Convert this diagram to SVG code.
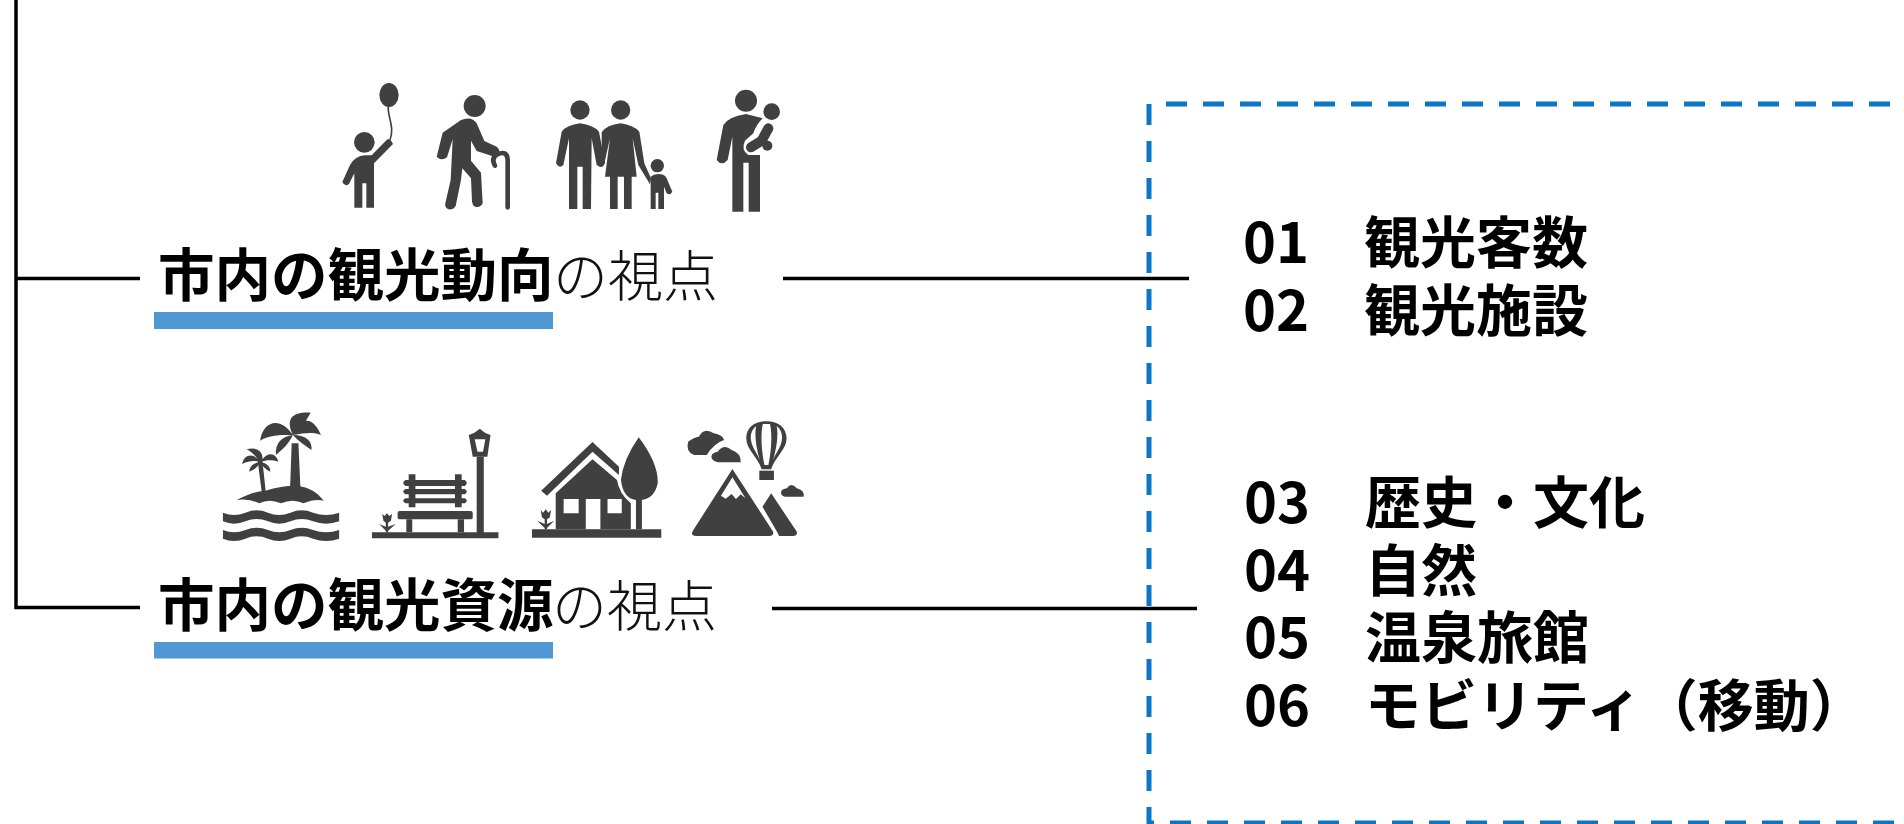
<svg xmlns="http://www.w3.org/2000/svg" width="1904" height="824" viewBox="0 0 1904 824">
<defs><filter id="soft" x="-5%" y="-5%" width="110%" height="110%"><feGaussianBlur stdDeviation="0.5"/></filter></defs>
<style>
.ic{fill:#404040;stroke:none}
.w{fill:#fff;stroke:none}
.ln{fill:none;stroke:#404040;stroke-linecap:round}
.c{fill:none;stroke:#000;stroke-width:3.500}
.bar{fill:#4f98d3}
.b{font-family:"Noto Sans CJK JP","Noto Sans",sans-serif;font-weight:700;fill:#000}
.l{font-family:"Noto Sans CJK JP","Noto Sans",sans-serif;font-weight:300;fill:#111}
</style>
<rect width="1904" height="824" fill="#fff"/>
<g id="connectors">
<path class="c" d="M16,0V607.500H140"/>
<path class="c" d="M16,278.500H140"/>
<path class="c" d="M783,278.500H1189"/>
<path class="c" d="M772,608.500H1197"/>
</g>
<g id="frame"><path d="M1149,104V823H1904M1166,104H1904" fill="none" stroke="#0b76c5" stroke-width="5" stroke-dasharray="21 16"/></g>
<g id="people-icons" transform="translate(300,70) scale(.33333)" filter="url(#soft)">
<g id="icon-child">
<circle class="ic" cx="193" cy="217" r="31"/>
<path class="ic" d="M150,285Q165,258 195,256L215,256L262,208Q272,205 279,222L222,280V413H199V340H187V413H163V310L147,342Q135,352 127,336Z"/>
<ellipse class="ic" cx="267" cy="75" rx="29" ry="36"/>
<path class="ln" stroke-width="5" d="M265,110C262,140 285,170 270,210"/>
</g>
<g id="icon-elder">
<circle class="ic" cx="524" cy="108" r="33"/>
<path class="ic" d="M428,188L483,150Q515,137 530,160L553,213L590,230Q600,238 598,250L588,262L530,243L513,212V272L543,308L548,400Q540,415 525,410Q517,405 516,395L513,325L487,295L483,330L467,408Q455,425 440,415Q433,408 437,395L452,330L458,208L441,262Q425,275 410,260Z"/>
<path class="ln" stroke-width="14" d="M585,287Q572,265 592,253Q622,240 623,270V412"/>
</g>
<g id="icon-family">
<circle class="ic" cx="840" cy="120" r="29"/><circle class="ic" cx="962" cy="120" r="29"/><circle class="ic" cx="1072" cy="287" r="20"/>
<path class="ic" d="M785,185Q800,165 840,160Q880,165 897,185L915,280Q905,297 890,285L875,205L873,417H848V290H832V417H807V205L790,285Q778,297 768,280Z"/>
<path class="ic" d="M905,187Q920,165 962,160Q1000,165 1018,185L1033,280L1053,325L1050,343L1015,285L998,205L1010,320H995V417H972V320H953V417H930V320H915L930,205L912,285Q905,295 897,288L905,230Z"/>
<path class="ic" d="M1052,320Q1060,313 1075,312Q1095,312 1100,325L1117,365Q1110,378 1100,370L1092,350V417H1075V368H1067V417H1052Z"/>
</g>
<g id="icon-parent">
<circle class="ic" cx="1338" cy="92" r="33"/><circle class="ic" cx="1415" cy="125" r="25"/>
<path class="ic" d="M1270,165Q1285,140 1338,132L1388,145Q1368,165 1360,190L1335,212Q1322,240 1345,255H1380V425H1346V278H1330V425H1297V200L1283,270Q1265,290 1250,270Z"/>
<path class="ln" stroke-width="30" d="M1405,175L1385,212L1353,232"/>
<circle class="ic" cx="1402" cy="227" r="15"/>
</g>
</g>
<g id="place-icons" transform="translate(200,400) scale(.39526,.33333)" filter="url(#soft)">
<g id="icon-island">
<path id="wave" class="ic" d="M58,338Q86,352 115,338Q143,324 172,338Q200,352 229,338Q257,324 286,338Q319,352 352,338V364Q319,378 286,364Q257,350 229,364Q200,378 172,364Q143,350 115,364Q86,378 58,364Z"/>
<path class="ic" transform="translate(0,52)" d="M58,338Q86,352 115,338Q143,324 172,338Q200,352 229,338Q257,324 286,338Q319,352 352,338V364Q319,378 286,364Q257,350 229,364Q200,378 172,364Q143,350 115,364Q86,378 58,364Z"/>
<path class="ic" d="M93,300Q130,275 165,272Q215,255 250,258Q290,265 313,302Q290,295 262,310Q235,295 205,310Q175,295 150,310Q125,295 93,300Z"/>
<path class="ic" d="M228,262L232,130H249L254,262Z"/>
<path class="ic" d="M235,105C205,50 160,60 152,122C175,105 200,105 235,105ZM235,105C215,55 235,35 280,38L268,62C285,60 300,85 306,105C285,95 265,100 235,105ZM235,105C270,105 285,125 282,150C265,135 250,125 235,105ZM235,105C205,110 190,130 192,165C212,145 225,130 235,105Z"/>
<path class="ic" d="M146,182L156,275L166,272L158,182Z"/>
<path class="ic" d="M152,185C135,155 110,165 107,192C125,180 140,182 152,185ZM152,185C138,165 130,155 118,148C145,140 160,155 158,178C175,150 195,165 198,185C180,178 170,180 152,185ZM152,185C170,190 178,200 178,215C165,208 158,198 152,185ZM152,185C135,190 125,200 125,215C140,208 148,198 152,185Z"/>
</g>
<g id="icon-bench">
<path class="ic" d="M435,397H755V415H435ZM700,170H718V400H700Z"/>
<path class="ic" fill-rule="evenodd" d="M680,105Q695,100 708,86Q720,100 735,105L727,170H690ZM695,118L702,155H716L722,118Z"/>
<path class="ic" d="M528,223H545V240H645V223H662V240H670Q680,249 670,258H662V267H670Q680,275 670,283H662V295H670Q680,303 670,310H662V322H645V310H545V322H528V310H520Q508,303 520,295H528V283H520Q508,275 520,267H528V258H520Q508,249 520,240H528Z"/>
<path class="w" d="M545,258H645V267H545ZM545,283H645V295H545Z"/>
<rect class="ic" x="500" y="333" width="190" height="25" rx="5"/>
<path class="ic" d="M522,358H537V397H522ZM652,358H668V397H652Z"/>
<path class="ic" d="M461,342L467,348L473,340L479,348L486,342L483,362L476,368V397H470V368L464,362ZM453,372L470,380V392ZM495,372L476,380V392Z"/>
</g>
<g id="icon-house">
<path class="ic" d="M863,272L993,126L1060,200V225L993,155L878,287Z"/>
<path class="ic" d="M900,280L993,178L1055,240Q1060,280 1090,310V388H900Z"/>
<path class="w" d="M920,297H958V340H920ZM976,297H1013V388H976ZM1031,297H1067V340H1031Z"/>
<path class="ic" d="M1110,112Q1160,190 1158,250Q1150,295 1118,300V388H1103V300Q1070,295 1065,240Q1070,180 1110,112Z"/>
<path class="ic" d="M840,388H1167V413H840Z"/>
<path class="ic" d="M862,330L868,338L875,328L881,338L888,330L885,352L878,358V388H872V358L865,352ZM853,362L872,372V384ZM896,362L878,372V384Z"/>
</g>
<g id="icon-mountain">
<path class="ic" fill-rule="evenodd" d="M1347,207L1450,395Q1452,408 1440,408H1255Q1240,408 1247,392ZM1347,232L1318,287L1330,296L1345,282L1356,297L1368,283L1380,295Z"/>
<path class="ic" d="M1445,280L1510,395Q1512,408 1500,408H1465L1462,400L1423,320Z"/>
<path class="ic" d="M1250,165Q1228,155 1235,125Q1250,112 1262,110Q1275,80 1300,100Q1322,105 1326,120Q1300,130 1282,165Z"/>
<path class="ic" d="M1310,187Q1288,180 1296,162Q1305,155 1310,155Q1325,130 1345,150Q1370,160 1368,187Z"/>
<path class="ic" d="M1480,290Q1465,285 1472,270Q1480,265 1485,265Q1495,245 1510,265Q1530,270 1527,290Z"/>
<path class="ic" fill-rule="evenodd" d="M1433,64C1465,64 1484,85 1484,115C1484,150 1455,170 1445,208H1421C1411,170 1382,150 1382,115C1382,85 1401,64 1433,64ZM1407,78C1395,90 1392,105 1394,120C1397,145 1408,155 1416,180C1408,145 1402,110 1407,78ZM1424,72C1418,100 1420,150 1428,195H1438C1446,150 1448,100 1442,72ZM1459,78C1464,110 1458,145 1450,180C1458,155 1469,145 1472,120C1474,105 1471,90 1459,78Z"/>
<path class="ic" d="M1415,212H1452V240H1415Z"/>
</g>
</g>
<g id="node-trend">
<rect class="bar" x="154" y="312" width="399" height="17"/>
<text y="296" font-size="56.500"><tspan class="b" x="158">市内の観光動向</tspan><tspan class="l" x="553" font-size="55">の視点</tspan></text>
</g>
<g id="node-resource">
<rect class="bar" x="154" y="642" width="399" height="16.500"/>
<text y="626" font-size="56.500"><tspan class="b" x="158">市内の観光資源</tspan><tspan class="l" x="552" font-size="55">の視点</tspan></text>
</g>
<g id="node-list-a" font-size="56">
<text class="b" y="263"><tspan x="1243">01</tspan><tspan x="1364">観光客数</tspan></text>
<text class="b" y="331"><tspan x="1243">02</tspan><tspan x="1364">観光施設</tspan></text>
</g>
<g id="node-list-b" font-size="56">
<text class="b" y="523"><tspan x="1244">03</tspan><tspan x="1365">歴史・文化</tspan></text>
<text class="b" y="591"><tspan x="1244">04</tspan><tspan x="1365">自然</tspan></text>
<text class="b" y="658"><tspan x="1244">05</tspan><tspan x="1365">温泉旅館</tspan></text>
<text class="b" y="726"><tspan x="1244">06</tspan><tspan x="1365">モビリティ（移動）</tspan></text>
</g>
</svg>
